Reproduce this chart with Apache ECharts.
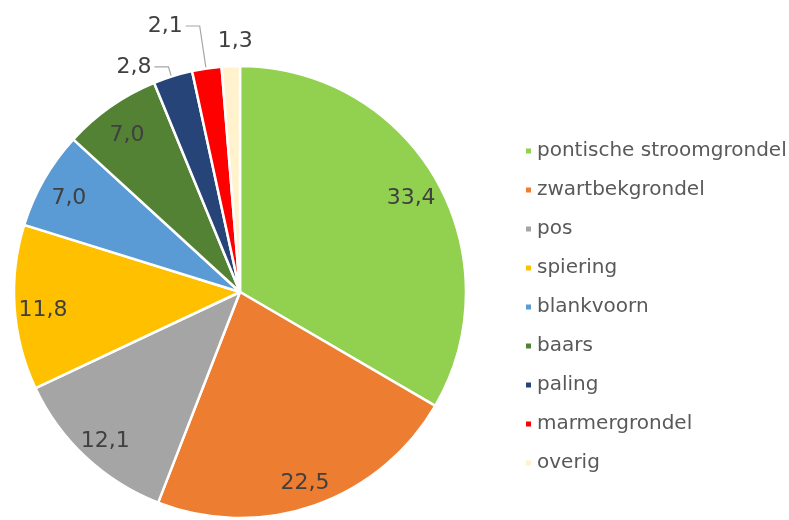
<!DOCTYPE html>
<html>
<head>
<meta charset="utf-8">
<script src="https://cdn.jsdelivr.net/npm/echarts@6/dist/echarts.min.js"></script>
<style>
  html, body { margin: 0; background: #fff; }
  #main { width: 789px; height: 520px; }
</style>
</head>
<body>
<div id="main"></div>
<script>
// aandeel per soort (%)
const soorten = ['pontische stroomgrondel', 'zwartbekgrondel', 'pos', 'spiering', 'blankvoorn', 'baars', 'paling', 'marmergrondel', 'overig']
const aandeel = [33.4, 22.5, 12.1, 11.8, 7.0, 7.0, 2.8, 2.1, 1.3]
const kleuren = ['#92D050', '#ED7D31', '#A5A5A5', '#FFC000', '#5B9BD5', '#548235', '#264478', '#FF0000', '#FFF2CC']
// kleine stukken: label buiten de taart
const buiten = {
  paling: { length: 15, length2: 14, show: true },
  marmergrondel: { length: 48, length2: 14, show: true },
  overig: { length: 26, length2: 0, show: false },
}

const R = 226
const fmt = (v) => v.toFixed(1).replace('.', ',')

const chart = echarts.init(document.getElementById('main'))
chart.setOption({
  backgroundColor: '#fff',
  animation: false,
  legend: {
    orient: 'vertical',
    left: 519,
    top: 136,
    icon: 'rect',
    itemWidth: 7,
    itemHeight: 7,
    itemGap: 19,
    data: soorten,
    textStyle: {
      fontFamily: 'DejaVu Sans',
      fontSize: 20,
      color: '#595959',
    },
  },
  series: [
    {
      type: 'pie',
      center: [240, 292],
      radius: [0, R],
      startAngle: 90,
      silent: true,
      itemStyle: { borderColor: '#fff', borderWidth: 2.5 },
      label: { show: false },
      labelLine: { show: false },
      data: soorten.map((s, i) => ({
        name: s,
        value: aandeel[i],
        itemStyle: { color: kleuren[i] },
      })),
    },
    {
      // alleen voor de labels
      type: 'pie',
      center: [240, 297],
      radius: [R * 0.72, R],
      startAngle: 90,
      silent: true,
      avoidLabelOverlap: false,
      itemStyle: { color: 'rgba(0,0,0,0)', borderWidth: 0 },
      label: {
        show: true,
        position: 'inside',
        formatter: (p) => fmt(p.value),
        fontFamily: 'DejaVu Sans',
        fontSize: 22,
        color: '#404040',
      },
      labelLine: { show: false, lineStyle: { color: '#A6A6A6', width: 1.2 } },
      labelLayout: (p) => (p.dataIndex === 8 ? { dx: 26, dy: -4 } : {}),
      data: soorten.map((s, i) => {
        const d = { name: s, value: aandeel[i] }
        if (buiten[s]) {
          d.label = { position: 'outside', distanceToLabelLine: 3 }
          d.labelLine = buiten[s]
        }
        return d
      }),
    },
  ],
})
</script>
</body>
</html>
